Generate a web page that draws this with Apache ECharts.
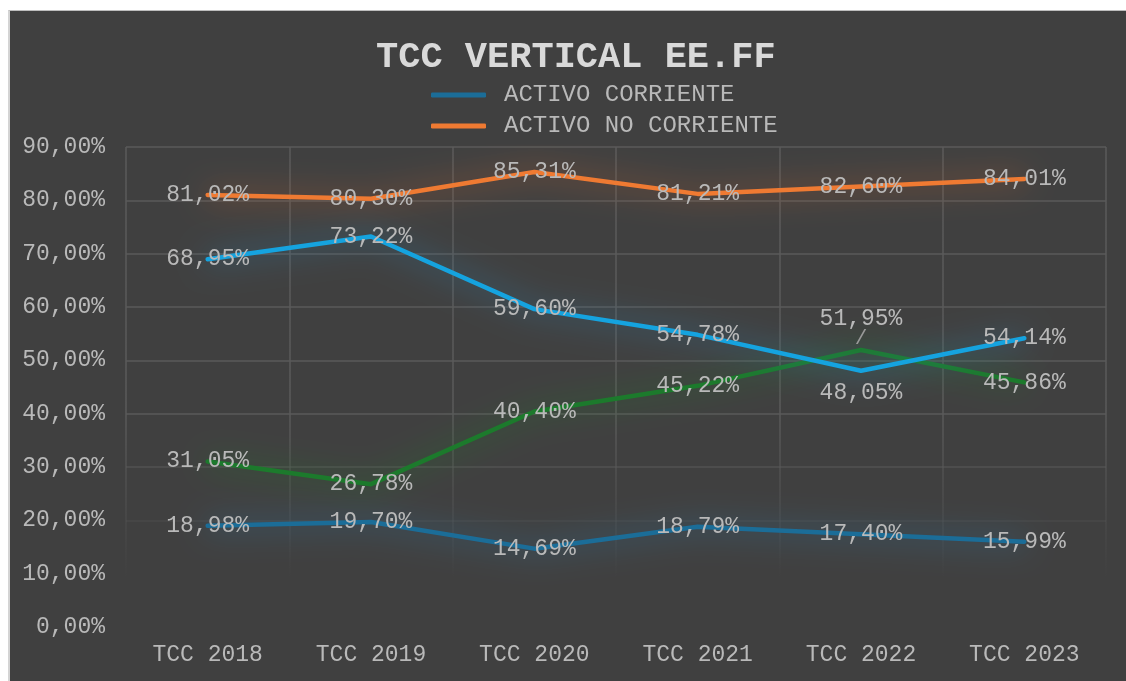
<!DOCTYPE html>
<html>
<head>
<meta charset="utf-8">
<script src="https://cdn.jsdelivr.net/npm/echarts@6/dist/echarts.min.js"></script>
<style>
  html, body { margin: 0; padding: 0; background: #ffffff; }
  #wrap { position: relative; width: 1126px; height: 681px; overflow: hidden; background: #ffffff; }
  #chart { position: absolute; left: 8px; top: 10px; width: 1116px; height: 670px;
           border-left: 2px solid #d4d4d4; border-top: 1px solid #bdbdbd; background: #404040; }
</style>
</head>
<body>
<div id="wrap"><div id="chart"></div></div>
<script>
const titleText = 'TCC VERTICAL EE.FF';
const categories = ['TCC 2018', 'TCC 2019', 'TCC 2020', 'TCC 2021', 'TCC 2022', 'TCC 2023'];
const activoCorriente = [18.98, 19.70, 14.69, 18.79, 17.40, 15.99];
const activoNoCorriente = [81.02, 80.30, 85.31, 81.21, 82.60, 84.01];
const serie3 = [68.95, 73.22, 59.60, 54.78, 48.05, 54.14];
const serie4 = [31.05, 26.78, 40.40, 45.22, 51.95, 45.86];
const yMin = 0, yMax = 90, yStep = 10;

const FONT = "'Liberation Mono', 'DejaVu Sans Mono', monospace";
const TXT = '#b9b9b9';

const fmt = v => Number(v).toFixed(2).replace('.', ',') + '%';

const chart = echarts.init(document.getElementById('chart'), null, { renderer: 'canvas' });

function mkSeries(name, values, color, glow, overrides, leaderIdx) {
  return {
    name: name,
    type: 'line',
    data: values.map((v, i) => {
      const o = overrides && overrides[i];
      return o ? Object.assign({ value: v }, o) : { value: v };
    }),
    symbol: 'circle',
    symbolSize: 1,
    itemStyle: { color: color },
    lineStyle: { color: color, width: 4.5, shadowBlur: 30, shadowColor: glow, cap: 'round', join: 'round' },
    label: {
      show: true, position: 'inside',
      formatter: p => (p.dataIndex === leaderIdx ? fmt(p.value) + '\n{s|/}' : fmt(p.value)),
      color: TXT, fontFamily: FONT, fontSize: 23, lineHeight: 23,
      rich: { s: { fontFamily: FONT, fontSize: 21, lineHeight: 17, color: '#9a9a9a' } }
    },
    emphasis: { disabled: true },
    z: 3
  };
}

const ySplitColors = [
  'rgba(90,90,90,0)', 'rgba(90,90,90,0.05)', 'rgba(90,90,90,0.35)', 'rgba(90,90,90,0.65)',
  '#5a5a5a', '#5a5a5a', '#5a5a5a', '#5a5a5a', '#5a5a5a', '#5a5a5a'
];

const option = {
  backgroundColor: '#404040',
  animation: false,
  title: {
    text: titleText,
    left: 361, top: 23,
    textStyle: { fontFamily: FONT, fontSize: 37, fontWeight: 'bold', color: '#d9d9d9' }
  },
  legend: {
    orient: 'vertical',
    left: 416, top: 67,
    data: ['ACTIVO CORRIENTE', 'ACTIVO NO CORRIENTE'],
    icon: 'roundRect',
    itemWidth: 55, itemHeight: 5,
    itemGap: 7,
    textStyle: { fontFamily: FONT, fontSize: 24, color: TXT, padding: [0, 0, 0, 13] }
  },
  grid: { left: 116, right: 20, top: 136, bottom: 54, containLabel: false },
  xAxis: {
    type: 'category',
    data: categories,
    boundaryGap: true,
    axisLine: { show: false },
    axisTick: { show: false },
    axisLabel: { color: TXT, fontFamily: FONT, fontSize: 23, margin: 16 },
    splitLine: {
      show: true,
      lineStyle: {
        width: 1.5,
        color: new echarts.graphic.LinearGradient(0, 136, 0, 616, [
          { offset: 0, color: 'rgba(90,90,90,1)' },
          { offset: 0.55, color: 'rgba(90,90,90,1)' },
          { offset: 0.9, color: 'rgba(90,90,90,0)' },
          { offset: 1, color: 'rgba(90,90,90,0)' }
        ], true)
      }
    }
  },
  yAxis: {
    type: 'value',
    min: yMin, max: yMax, interval: yStep,
    axisLine: { show: false },
    axisTick: { show: false },
    axisLabel: { color: TXT, fontFamily: FONT, fontSize: 23, margin: 21, formatter: v => fmt(v) },
    splitLine: { show: true, lineStyle: { width: 1.5, color: ySplitColors } }
  },
  series: [
    mkSeries('ACTIVO CORRIENTE', activoCorriente, '#1b6d98', 'rgba(45,125,175,1)'),
    mkSeries('ACTIVO NO CORRIENTE', activoNoCorriente, '#ef7a32', 'rgba(200,100,45,1)'),
    mkSeries('serie4', serie4, '#1c7a2c', 'rgba(30,125,40,1)', {
      4: { label: { position: 'top', distance: 2 } }
    }, 4),
    mkSeries('serie3', serie3, '#15a3df', 'rgba(45,135,185,1)', {
      4: { label: { position: 'bottom', distance: 10 } }
    })
  ]
};

chart.setOption(option);
</script>
</body>
</html>
